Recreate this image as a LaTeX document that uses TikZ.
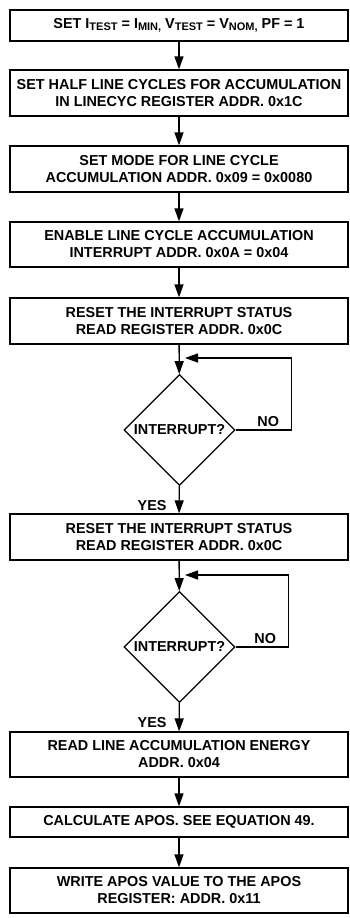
\documentclass[tikz,border=0pt]{standalone}
\usepackage{fontspec}
\setmainfont{Liberation Sans}
\usepackage{tikz}
\usetikzlibrary{arrows.meta,positioning,calc,shapes.geometric}
\newcommand{\lowtext}[1]{\raisebox{-0.3ex}{\fontsize{11pt}{11pt}\selectfont #1}}

\begin{document}
\begin{tikzpicture}[x=1pt,y=-1pt,
      font=\fontsize{14.4pt}{17pt}\selectfont\bfseries,
      stepbox/.style={rectangle,draw,line width=1.3pt,minimum width=338pt,inner sep=0pt,align=center},
      decision/.style={diamond,draw,line width=1.3pt,minimum width=111pt,minimum height=111pt,inner sep=0pt},
      flow/.style={-{Triangle[length=13pt,width=9pt]},line width=1.3pt},
      lbl/.style={inner sep=2pt}]
    \useasboundingbox (0,0) rectangle (349,918);
    % main column
    \node[stepbox,minimum height=31pt] (b1) at (179,25.5) {SET I\lowtext{TEST} = I\lowtext{MIN,} V\lowtext{TEST} = V\lowtext{NOM,} PF = 1};
    \node[stepbox,minimum height=46pt] (b2) at (179,93) {SET HALF LINE CYCLES FOR ACCUMULATION\\IN LINECYC REGISTER ADDR. 0x1C};
    \node[stepbox,minimum height=46pt] (b3) at (179,169) {SET MODE FOR LINE CYCLE\\ACCUMULATION ADDR. 0x09 = 0x0080};
    \node[stepbox,minimum height=45pt] (b4) at (179,244.5) {ENABLE LINE CYCLE ACCUMULATION\\INTERRUPT ADDR. 0x0A = 0x04};
    \node[stepbox,minimum height=46pt] (b5) at (179,321) {RESET THE INTERRUPT STATUS\\READ REGISTER ADDR. 0x0C};
    \node[decision] (d1) at (179.5,430) {INTERRUPT?};
    \node[stepbox,minimum height=46pt] (b6) at (179,537) {RESET THE INTERRUPT STATUS\\READ REGISTER ADDR. 0x0C};
    \node[decision] (d2) at (179.5,647) {INTERRUPT?};
    \node[stepbox,minimum height=45pt] (b7) at (179,754.5) {READ LINE ACCUMULATION ENERGY\\ADDR. 0x04};
    \node[stepbox,minimum height=30pt] (b8) at (179,822) {CALCULATE APOS. SEE EQUATION 49.};
    \node[stepbox,minimum height=45pt] (b9) at (179,890.5) {WRITE APOS VALUE TO THE APOS\\REGISTER: ADDR. 0x11};
    % loop returns
    \coordinate (j1) at (185,358);
    \coordinate (j2) at (185,575);
    % connectors
    \draw[flow] (b1) -- (b2);
    \draw[flow] (b2) -- (b3);
    \draw[flow] (b3) -- (b4);
    \draw[flow] (b4) -- (b5);
    \draw[flow] (b5) -- (d1);
    \draw[flow] (d1.east) -- ++(56,0) node[lbl,above left=1pt and 10pt] {NO} |- (j1);
    \draw[flow] (d1) -- node[lbl,pos=0.7,left=10pt] {YES} (b6);
    \draw[flow] (b6) -- (d2);
    \draw[flow] (d2.east) -- ++(53,0) node[lbl,above left=1pt and 10pt] {NO} |- (j2);
    \draw[flow] (d2) -- node[lbl,pos=0.7,left=10pt] {YES} (b7);
    \draw[flow] (b7) -- (b8);
    \draw[flow] (b8) -- (b9);
  \end{tikzpicture}
\end{document}
